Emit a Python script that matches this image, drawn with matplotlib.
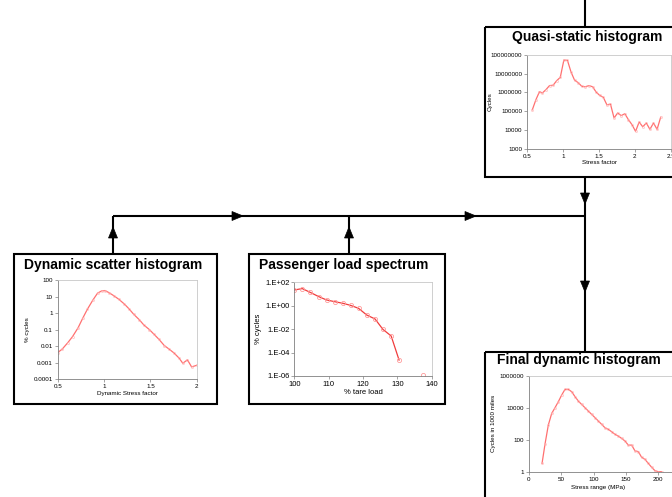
import matplotlib
matplotlib.use("Agg")
import matplotlib.pyplot as plt
from matplotlib.patches import Rectangle, Polygon

plt.rcParams["font.family"] = ["Liberation Sans", "DejaVu Sans"]

W, H = 672, 497
LINE = "#ff7070"
MARK = "#ffb0b0"

# quasi-static histogram
qs_x = [0.57, 0.62, 0.67, 0.71, 0.76, 0.81, 0.86, 0.91, 0.96, 1.01, 1.06, 1.11, 1.16,
        1.21, 1.26, 1.31, 1.36, 1.41, 1.46, 1.51, 1.56, 1.61, 1.66, 1.71, 1.76, 1.81,
        1.86, 1.91, 1.96, 2.01, 2.06, 2.11, 2.16, 2.21, 2.26, 2.31, 2.36]
qs_y = [1.2e5, 4.1e5, 1.1e6, 9.3e5, 1.4e6, 2.3e6, 2.4e6, 4.2e6, 6.3e6, 5.2e7, 5.0e7,
        1.2e7, 4.4e6, 3.3e6, 2.1e6, 2.0e6, 2.3e6, 2.0e6, 1.05e6, 6.9e5, 5.5e5, 2.2e5,
        2.4e5, 4.4e4, 8.1e4, 5.9e4, 7.4e4, 3.6e4, 1.95e4, 8.6e3, 2.7e4, 1.5e4, 2.4e4,
        1.1e4, 2.4e4, 1.1e4, 4.8e4]

# dynamic scatter histogram
ds_x = [0.50, 0.55, 0.61, 0.66, 0.72, 0.77, 0.82, 0.88, 0.93, 0.975, 1.01, 1.055, 1.11,
        1.16, 1.22, 1.27, 1.32, 1.38, 1.43, 1.49, 1.54, 1.59, 1.65, 1.70, 1.755, 1.81,
        1.85, 1.90, 1.945, 2.0]
ds_y = [0.0041, 0.0068, 0.0166, 0.038, 0.13, 0.49, 1.7, 6.2, 16, 22, 23, 17, 10.8, 6.8,
        3.5, 1.8, 0.85, 0.40, 0.19, 0.10, 0.052, 0.027, 0.011, 0.0068, 0.0039, 0.0019,
        0.00093, 0.0015, 0.00056, 0.0007]

# passenger load spectrum
pl_x = [100, 102.3, 104.6, 107.1, 109.4, 111.8, 114.2, 116.4, 118.7, 121.1, 123.5,
        125.8, 128.2, 130.5]
pl_y = [22, 29, 14, 6.0, 3.1, 2.2, 1.6, 1.07, 0.6, 0.16, 0.074, 0.0096, 0.0026, 2.3e-5]
pl_out_x = [137.6]
pl_out_y = [1.2e-6]

# final dynamic histogram
fd_x = [20.6, 25.2, 30.3, 35.5, 40.6, 45.8, 50.9, 56.0, 61.2, 66.3, 71.5, 76.6, 81.7,
        86.9, 92.0, 97.2, 102.3, 107.5, 112.6, 117.7, 122.9, 128.0, 133.2, 138.3, 143.4,
        148.6, 153.7, 158.9, 164.0, 169.2, 174.3, 179.4, 184.6, 189.7, 194.9, 200.0, 205.0]
fd_y = [3.3, 54, 830, 4400, 1e4, 2.4e4, 6.2e4, 1.4e5, 1.4e5, 1e5, 4.9e4, 2.6e4, 1.6e4,
        1e4, 6200, 3800, 2400, 1470, 910, 560, 440, 316, 215, 170, 120, 83, 46, 46, 20,
        18, 7.9, 5.9, 3.3, 1.9, 1.15, 1.0, 1.0]

fig = plt.figure(figsize=(W / 100, H / 100), dpi=100)
bg = fig.add_axes([0, 0, 1, 1])
bg.set_xlim(0, W); bg.set_ylim(H, 0); bg.axis("off")

LW = 1.5
for x0, y0, x1, y1 in [(485, 27, 690, 177), (14, 254, 217, 404),
                       (249, 254, 445, 404), (485, 352, 690, 520)]:
    bg.add_patch(Rectangle((x0, y0), x1 - x0, y1 - y0, fill=False, lw=LW, ec="k"))

for xs, ys in [([585, 585], [0, 27]), ([113, 585], [216, 216]), ([585, 585], [177, 352]),
               ([113, 113], [216, 254]), ([349, 349], [216, 254])]:
    bg.plot(xs, ys, color="k", lw=LW, solid_capstyle="butt")


def arrow(x, y, d):
    # triangle head, tip at (x, y)
    L, w = 11, 4.5
    if d == "up":
        pts = [(x, y), (x - w, y + L), (x + w, y + L)]
    elif d == "down":
        pts = [(x, y), (x - w, y - L), (x + w, y - L)]
    else:
        pts = [(x, y), (x - L, y - w), (x - L, y + w)]
    bg.add_patch(Polygon(pts, closed=True, fc="k", ec="k", lw=0.5))


arrow(113, 227, "up"); arrow(349, 227, "up")
arrow(243, 216, "right"); arrow(476, 216, "right")
arrow(585, 204, "down"); arrow(585, 292, "down")

TK = 4.5
titles = [("Quasi-static histogram", 587, 37), ("Dynamic scatter histogram", 113, 265),
          ("Passenger load spectrum", 344, 265), ("Final dynamic histogram", 579, 360)]
for t, x, y in titles:
    bg.text(x, y, t, ha="center", va="center", fontsize=10, fontweight="bold")


def sub(x0, y0, x1, y1):
    ax = fig.add_axes([x0 / W, 1 - y1 / H, (x1 - x0) / W, (y1 - y0) / H])
    ax.set_yscale("log")
    for s in ("top", "right"):
        ax.spines[s].set_color("#c8c8c8")
    for s in ("left", "bottom"):
        ax.spines[s].set_color("#808080")
    for s in ax.spines.values():
        s.set_linewidth(0.6)
    ax.tick_params(labelsize=TK, length=2, width=0.5, pad=1.5, color="#808080")
    ax.minorticks_off()
    return ax


ax = sub(527.3, 54.7, 670.7, 149)
ax.plot(qs_x, qs_y, color=LINE, lw=0.9, marker="o", ms=1.5, mfc="none", mec=MARK, mew=0.4)
ax.set_xlim(0.5, 2.5); ax.set_ylim(1e3, 1e8)
ax.set_xticks([0.5, 1, 1.5, 2, 2.5]); ax.set_xticklabels(["0.5", "1", "1.5", "2", "2.5"])
ax.set_yticks([1e3, 1e4, 1e5, 1e6, 1e7, 1e8])
ax.set_yticklabels(["1000", "10000", "100000", "1000000", "10000000", "100000000"])
ax.minorticks_off()
ax.set_xlabel("Stress factor", fontsize=TK, labelpad=1)
ax.set_ylabel("Cycles", fontsize=TK)
ax.yaxis.set_label_coords(-0.245, 0.5)

ax = sub(57.7, 280, 196.7, 379.3)
ax.plot(ds_x, ds_y, color=LINE, lw=0.9, marker="o", ms=1.5, mfc="none", mec=MARK, mew=0.4)
ax.set_xlim(0.5, 2); ax.set_ylim(1e-4, 100)
ax.set_xticks([0.5, 1, 1.5, 2]); ax.set_xticklabels(["0.5", "1", "1.5", "2"])
ax.set_yticks([1e-4, 1e-3, 1e-2, 1e-1, 1, 10, 100])
ax.set_yticklabels(["0.0001", "0.001", "0.01", "0.1", "1", "10", "100"])
ax.minorticks_off()
ax.set_xlabel("Dynamic Stress factor", fontsize=TK, labelpad=1)
ax.set_ylabel("% cycles", fontsize=TK)
ax.yaxis.set_label_coords(-0.2, 0.5)

ax = sub(294.3, 282.3, 431.7, 376)
ax.plot(pl_x, pl_y, color="#f03c3c", lw=0.9, marker="o", ms=3, mfc="none", mec="#ff9a9a", mew=0.6)
ax.plot(pl_out_x, pl_out_y, ls="none", marker="o", ms=3, mfc="none", mec="#ff9a9a", mew=0.6)
ax.set_xlim(100, 140); ax.set_ylim(1e-6, 1e2)
ax.set_xticks([100, 110, 120, 130, 140])
ax.set_yticks([1e-6, 1e-4, 1e-2, 1, 1e2])
ax.set_yticklabels(["1.E-06", "1.E-04", "1.E-02", "1.E+00", "1.E+02"])
ax.minorticks_off()
ax.tick_params(labelsize=5.5)
ax.set_xlabel("% tare load", fontsize=5.5, labelpad=1)
ax.set_ylabel("% cycles", fontsize=5.5, labelpad=2)

ax = sub(528.7, 375.7, 690.7, 471.7)
ax.plot(fd_x, fd_y, color=LINE, lw=0.9, marker="o", ms=1.5, mfc="none", mec=MARK, mew=0.4)
ax.set_xlim(0, 250); ax.set_ylim(1, 1e6)
ax.set_xticks([0, 50, 100, 150, 200])
ax.set_yticks([1, 100, 1e4, 1e6])
ax.set_yticklabels(["1", "100", "10000", "1000000"])
ax.minorticks_off()
ax.set_xlabel("Stress range (MPa)", fontsize=TK, labelpad=1)
ax.xaxis.set_label_coords(0.43, -0.14)
ax.set_ylabel("Cycles in 1000 miles", fontsize=TK)
ax.yaxis.set_label_coords(-0.2, 0.5)

fig.savefig("out.png", dpi=100)
